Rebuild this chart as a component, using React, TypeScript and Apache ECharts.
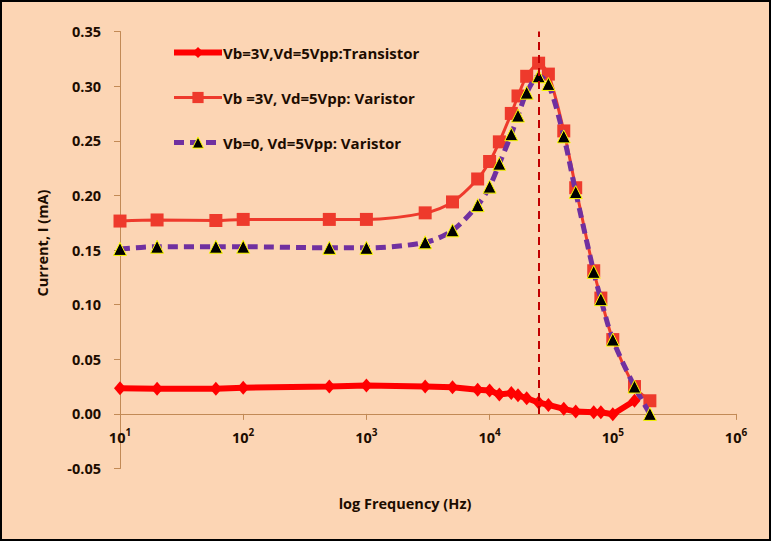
import React, { useEffect, useRef } from "react";
import * as echarts from "echarts";

const freqTransistor = [10, 20, 60, 100, 500, 1000, 3000, 5000, 8000, 10000, 12000, 15000, 17000, 20000, 25000, 30000, 40000, 50000, 70000, 80000, 100000, 150000];
const currentTransistor = [0.0235, 0.023, 0.023, 0.024, 0.025, 0.026, 0.025, 0.0244, 0.022, 0.0214, 0.0177, 0.019, 0.017, 0.0143, 0.0104, 0.0082, 0.0046, 0.0021, 0.0015, 0.0015, -0.0003, 0.012];

const freqVaristor = [10, 20, 60, 100, 500, 1000, 3000, 5000, 8000, 10000, 12000, 15000, 17000, 20000, 25000, 30000, 40000, 50000, 70000, 80000, 100000, 150000, 200000];
const currentVaristor3V = [0.1765, 0.1775, 0.177, 0.178, 0.178, 0.178, 0.184, 0.194, 0.215, 0.231, 0.249, 0.275, 0.291, 0.309, 0.321, 0.311, 0.259, 0.207, 0.131, 0.106, 0.068, 0.025, 0.012];
const currentVaristor0V = [0.151, 0.153, 0.153, 0.153, 0.152, 0.152, 0.157, 0.168, 0.191, 0.208, 0.229, 0.256, 0.273, 0.294, 0.309, 0.302, 0.254, 0.203, 0.130, 0.105, 0.068, 0.025, 0.0];

const seriesNames = [
  "Vb=3V,Vd=5Vpp:Transistor",
  "Vb =3V, Vd=5Vpp: Varistor",
  "Vb=0, Vd=5Vpp: Varistor",
];
const peakFrequency = 25000;
const yTicks = { min: -0.05, max: 0.35, interval: 0.05 };
const xRange = { min: 10, max: 1000000 };
const xAxisTitle = "log Frequency (Hz)";
const yAxisTitle = "Current, I (mA)";

const pair = (xs: number[], ys: number[]) => xs.map((x, i) => [x, ys[i]]);

export default function App() {
  const ref = useRef<HTMLDivElement>(null);
  useEffect(() => {
    document.body.style.margin = "0";
    const chart = echarts.init(ref.current!, undefined, { renderer: "svg" });
    const font = "'Open Sans', 'Noto Sans', sans-serif";
    const textColor = "#1c0c00";
    const axisColor = "#C28A56";
    const red = "#FF0000";
    const red2 = "#EE3A2C";
    const purple = "#7030A0";
    const tri = { color: "#000000", borderColor: "#FFFF00", borderWidth: 1 };
    const gridTop = 31.5;
    const gridBottom = 72.5;
    const plotH = 541 - gridTop - gridBottom;
    // distance from the bottom of the plot to the zero line, so the x axis sits on y = 0
    const zeroOffset = -plotH * (0 - yTicks.min) / (yTicks.max - yTicks.min);
    chart.setOption({
      animation: false,
      backgroundColor: "#FCD5B4",
      textStyle: { fontFamily: font },
      graphic: [
        {
          type: "rect",
          shape: { x: 1, y: 1, width: 769, height: 539 },
          style: { fill: "none", stroke: "#000", lineWidth: 2 },
          silent: true,
        },
      ],
      grid: { left: 120, right: 35, top: gridTop, bottom: gridBottom, outerBoundsMode: "none", containLabel: false },
      legend: {
        orient: "vertical",
        left: 166,
        top: 40,
        itemWidth: 48,
        itemHeight: 14,
        itemGap: 30,
        textStyle: { fontFamily: font, fontSize: 15, fontWeight: "bold", color: textColor, padding: [0, 0, 0, -4] },
        data: [
          { name: seriesNames[0], lineStyle: { color: red, width: 6 }, itemStyle: { color: red } },
          { name: seriesNames[1], lineStyle: { color: red2, width: 3 }, itemStyle: { color: red2 } },
          { name: seriesNames[2], lineStyle: { color: purple, width: 5, type: [10, 6] }, itemStyle: tri },
        ],
      },
      xAxis: {
        type: "log",
        logBase: 10,
        min: xRange.min,
        max: xRange.max,
        position: "bottom",
        offset: zeroOffset,
        name: xAxisTitle,
        nameLocation: "middle",
        nameGap: 82,
        nameTextStyle: { fontFamily: font, fontSize: 14.5, fontWeight: "bold", color: textColor, padding: [0, 46, 0, 0] },
        axisLine: { onZero: false, lineStyle: { color: axisColor, width: 1 } },
        axisTick: { inside: false, length: 6, lineStyle: { color: axisColor } },
        splitLine: { show: false },
        minorTick: { show: false },
        axisLabel: {
          margin: 13,
          formatter: (v: number) => `{b|10}{s|${Math.round(Math.log10(v))}}`,
          rich: {
            b: { fontFamily: font, fontSize: 14.5, fontWeight: "bold", color: textColor, lineHeight: 18, verticalAlign: "bottom" },
            s: { fontFamily: font, fontSize: 10, fontWeight: "bold", color: textColor, lineHeight: 12, verticalAlign: "top" },
          },
        },
      },
      yAxis: {
        type: "value",
        min: yTicks.min,
        max: yTicks.max,
        interval: yTicks.interval,
        name: yAxisTitle,
        nameLocation: "middle",
        nameGap: 70,
        nameRotate: 90,
        nameTextStyle: { fontFamily: font, fontSize: 14.5, fontWeight: "bold", color: textColor, padding: [0, 0, 0, 14] },
        axisLine: { show: true, onZero: false, lineStyle: { color: axisColor, width: 1 } },
        axisTick: { show: true, inside: false, length: 6, lineStyle: { color: axisColor } },
        splitLine: { show: false },
        axisLabel: {
          margin: 19,
          fontFamily: font,
          fontSize: 14.5,
          fontWeight: "bold",
          color: textColor,
          formatter: (v: number) => v.toFixed(2),
        },
      },
      series: [
        {
          name: seriesNames[0],
          type: "line",
          data: pair(freqTransistor, currentTransistor),
          symbol: "diamond",
          symbolSize: [12, 14],
          lineStyle: { color: red, width: 6 },
          itemStyle: { color: red },
          z: 4,
          markLine: {
            silent: true,
            symbol: ["none", "none"],
            label: { show: false },
            lineStyle: { color: "#C00000", type: [8, 5], width: 2 },
            data: [[{ coord: [peakFrequency, 0] }, { coord: [peakFrequency, yTicks.max] }]],
          },
        },
        {
          name: seriesNames[1],
          type: "line",
          data: pair(freqVaristor, currentVaristor3V),
          smooth: 0.3,
          symbol: "rect",
          symbolSize: 13,
          lineStyle: { color: red2, width: 3 },
          itemStyle: { color: red2 },
          z: 2,
        },
        {
          name: seriesNames[2],
          type: "line",
          data: pair(freqVaristor, currentVaristor0V),
          smooth: 0.3,
          symbol: "triangle",
          symbolSize: 13,
          lineStyle: { color: purple, width: 5, type: [10, 6] },
          itemStyle: tri,
          z: 3,
        },
      ],
    });
    return () => chart.dispose();
  }, []);
  return <div ref={ref} style={{ width: 771, height: 541 }} />;
}
